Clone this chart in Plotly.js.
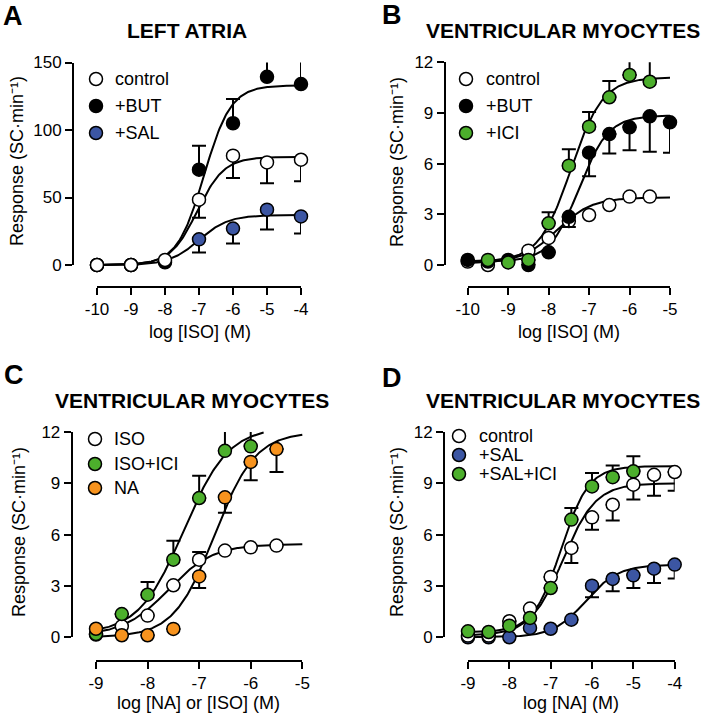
<!DOCTYPE html>
<html><head><meta charset="utf-8">
<script src="https://cdn.plot.ly/plotly-3.0.1.min.js"></script>
<style>html,body{margin:0;padding:0;background:#fff}#chart{width:709px;height:716px}</style>
</head><body><div id="chart"></div>
<script>
// ---------------- DATA ----------------
// Panel A: LEFT ATRIA, log [ISO] (M)
const A_x = [-10, -9, -8, -7, -6, -5, -4];
const A_control = [0, 0, 3.7, 48.4, 81, 76, 78];
const A_control_sem = [0, 0, 0, 13.4, 16.6, 15.5, 16];   // drawn downward
const A_but = [0, 0, 2, 70.6, 105, 139.4, 134];
const A_but_sem = [0, 0, 0, 17.7, 18, 24.6, 19.7];       // drawn upward
const A_sal = [0, 0, -0.5, 19, 27, 41, 36];
const A_sal_sem = [0, 0, 0, 9.7, 11, 14.7, 12.6];        // drawn downward
// fitted curves: [bottom, top, logEC50, Hill slope]
const A_fit_control = [0, 80, -7.05, 1.1];
const A_fit_but = [0, 133, -6.85, 1.1];
const A_fit_sal = [0, 37, -7.0, 1.0];

// Panel B: VENTRICULAR MYOCYTES, log [ISO] (M)
const B_control_x = [-10, -9.5, -9, -8.5, -8, -7.5, -7, -6.5, -6, -5.5];
const B_control = [0.2, 0.0, 0.25, 0.85, 1.6, 2.6, 2.96, 3.55, 4.05, 4.05];
const B_but_x = [-10, -9.5, -9, -8.5, -8, -7.5, -7, -6.5, -6, -5.5, -5];
const B_but = [0.3, 0.2, 0.3, 0.0, 0.75, 2.85, 6.65, 7.75, 8.15, 8.8, 8.45];
const B_but_sem = [0, 0, 0, 0, 0, 0.6, 1.4, 1.15, 1.35, 2.1, 1.8];   // downward
const B_ici_x = [-9.5, -9, -8.5, -8, -7.5, -7, -6.5, -6, -5.5];
const B_ici = [0.3, 0.15, 0.3, 2.47, 5.88, 8.19, 9.93, 11.25, 10.85];
const B_ici_sem = [0, 0, 0, 0.65, 0.97, 0.87, 0.97, 1.38, 1.29];      // upward
const B_fit_control = [0.1, 4.0, -7.8, 1.0];
const B_fit_but = [0.2, 8.85, -7.25, 1.2];
const B_fit_ici = [0.2, 11.1, -7.45, 1.1];

// Panel C: VENTRICULAR MYOCYTES, log [NA] or [ISO] (M)
const C_iso_x = [-9, -8.5, -8, -7.5, -7, -6.5, -6, -5.5];
const C_iso = [0.16, 0.64, 1.27, 3.04, 4.54, 5.07, 5.26, 5.36];
const C_iso_sem = [0, 0, 0, 0, 0.45, 0, 0, 0];                       // upward
const C_ici_x = [-9, -8.5, -8, -7.5, -7, -6.5, -6];
const C_ici = [0.2, 1.36, 2.49, 4.54, 8.14, 10.9, 11.16];
const C_ici_sem = [0, 0, 0.74, 1.1, 1.3, 1.55, 1.5];                 // upward
const C_na_x = [-9, -8.5, -8, -7.5, -7, -6.5, -6, -5.5];
const C_na = [0.5, 0.12, 0.12, 0.49, 3.56, 8.18, 10.25, 11.0];
const C_na_sem = [0, 0, 0, 0, 0.68, 0.9, 1.07, 1.34];                // downward
const C_fit_iso = [0.1, 5.45, -7.6, 1.0];
const C_fit_ici = [0.2, 12.3, -7.3, 1.0];
const C_fit_na = [0, 12.0, -6.7, 1.1];

// Panel D: VENTRICULAR MYOCYTES, log [NA] (M)
const D_x = [-9, -8.5, -8, -7.5, -7, -6.5, -6, -5.5, -5, -4.5, -4];
const D_control = [0.1, 0.1, 0.94, 1.68, 3.53, 5.22, 7.01, 7.75, 8.92, 9.5, 9.66];
const D_control_sem = [0, 0, 0, 0, 0, 0.88, 0.72, 0.93, 0.87, 1.22, 1.09]; // downward
const D_sal = [0, 0, 0, 0.55, 0.5, 1.03, 3.02, 3.41, 3.62, 4.01, 4.25];
const D_sal_sem = [0, 0, 0, 0, 0, 0, 0.68, 0.72, 0.74, 0.83, 0.82];         // downward
const D_salici_x = [-9, -8.5, -8, -7.5, -7, -6.5, -6, -5.5, -5];
const D_salici = [0.35, 0.31, 0.68, 1.13, 2.88, 6.88, 8.82, 9.36, 9.7];
const D_salici_sem = [0, 0, 0, 0, 0, 0.68, 0.78, 0.68, 0.88];              // upward
const D_fit_control = [0.1, 9.0, -6.7, 1.1];
const D_fit_salici = [0.3, 10.0, -6.75, 1.3];
const D_fit_sal = [0, 4.25, -6.15, 1.1];

// tick labels
const A_xticks = [-10, -9, -8, -7, -6, -5, -4];
const A_yticks = [0, 50, 100, 150];
const B_xticks = [-10, -9, -8, -7, -6, -5];
const C_xticks = [-9, -8, -7, -6, -5];
const D_xticks = [-9, -8, -7, -6, -5, -4];
const VM_yticks = [0, 3, 6, 9, 12];

const titles = ['LEFT ATRIA', 'VENTRICULAR MYOCYTES', 'VENTRICULAR MYOCYTES', 'VENTRICULAR MYOCYTES'];
const letters = ['A', 'B', 'C', 'D'];
const xTitles = ['log [ISO] (M)', 'log [ISO] (M)', 'log [NA] or [ISO] (M)', 'log [NA] (M)'];
const yTitle = 'Response (SC·min⁻¹)';

// ---------------- STYLE / GEOMETRY ----------------
const W = 709, H = 716;
const FONT = 'Liberation Sans, Arial, Helvetica, sans-serif';
const WHITE = '#ffffff', BLACK = '#000000', BLUE = '#3c56a3', GREEN = '#4caf2c', ORANGE = '#f7931e';

const panels = [
  {xr: [-10, -4], xpx: [97, 301], yr: [0, 150], ypx: [265, 62.5], xline: 287, yline: 73,
   xticks: A_xticks, yticks: A_yticks, title: [187, 30], letter: [13, 16], ytitle: [17, 161], xtitle: [200, 332],
   leg: {sx: 96, tx: 113, ys: [79, 106, 133]}},
  {xr: [-10, -5], xpx: [467.7, 670], yr: [0, 12], ypx: [265, 62.3], xline: 287, yline: 444.7,
   xticks: B_xticks, yticks: VM_yticks, title: [563, 30], letter: [392, 15], ytitle: [397, 162], xtitle: [569, 332],
   leg: {sx: 466, tx: 484, ys: [79, 106, 133]}},
  {xr: [-9, -5], xpx: [96, 302.3], yr: [0, 12], ypx: [637.3, 432], xline: 661, yline: 71.7,
   xticks: C_xticks, yticks: VM_yticks, title: [192, 400], letter: [14, 375], ytitle: [19, 532], xtitle: [198, 703],
   leg: {sx: 95, tx: 112, ys: [439, 464, 488]}},
  {xr: [-9, -4], xpx: [468, 674.7], yr: [0, 12], ypx: [637.3, 432], xline: 661, yline: 444,
   xticks: D_xticks, yticks: VM_yticks, title: [563, 400], letter: [392, 378], ytitle: [397, 532], xtitle: [571, 703],
   leg: {sx: 459, tx: 477, ys: [436, 455, 474]}}
];

function hill(p, x) { return p[0] + (p[1] - p[0]) / (1 + Math.pow(10, (p[2] - x) * p[3])); }
// curves live on slightly extended, undrawn axes so they are never clipped
function fitCurve(p, x0, x1, axN) {
  const xs = [], ys = [], n = 200;
  for (let i = 0; i <= n; i++) { const x = x0 + (x1 - x0) * i / n; xs.push(x); ys.push(hill(p, x)); }
  return {type: 'scatter', mode: 'lines', x: xs, y: ys, xaxis: 'x' + axN, yaxis: 'y' + axN,
          line: {color: BLACK, width: 2}, hoverinfo: 'skip', showlegend: false};
}
// points live on the visible (detached) axes
function pts(x, y, color, sem, dir, axN) {
  const zeros = y.map(() => 0);
  const t = {type: 'scatter', mode: 'markers', x: x, y: y, xaxis: 'x' + axN, yaxis: 'y' + axN, showlegend: false,
    marker: {size: 13, color: color, line: {color: BLACK, width: 1.5}}, cliponaxis: false};
  if (sem) {
    t.error_y = {type: 'data', symmetric: false,
      array: dir === 'up' ? sem : zeros, arrayminus: dir === 'down' ? sem : zeros,
      color: BLACK, thickness: 2, width: 7};
  }
  return t;
}

const layout = {width: W, height: H, margin: {l: 0, r: 0, t: 0, b: 0}, paper_bgcolor: WHITE, plot_bgcolor: 'rgba(0,0,0,0)',
  showlegend: false, font: {family: FONT, color: BLACK}, annotations: [], shapes: []};
const axName = (c, n) => c + 'axis' + (n === 1 ? '' : n);
const axId = (c, n) => c + (n === 1 ? '' : n);
const PAD = 25;
const bare = {showline: false, showticklabels: false, ticks: '', showgrid: false, zeroline: false, fixedrange: true};
panels.forEach((p, i) => {
  const m = i + 1, n = i + 5;
  const ppx = (p.xpx[1] - p.xpx[0]) / (p.xr[1] - p.xr[0]);
  const ppy = (p.ypx[0] - p.ypx[1]) / (p.yr[1] - p.yr[0]);
  const tf = {size: 17, family: FONT, color: BLACK};
  layout[axName('x', n)] = {domain: [p.xpx[0] / W, p.xpx[1] / W], range: p.xr, anchor: 'free', position: 1 - p.xline / H,
    showline: true, linewidth: 2, linecolor: BLACK, ticks: 'outside', ticklen: 7, tickwidth: 2, tickcolor: BLACK,
    tickvals: p.xticks, ticktext: p.xticks.map(String), tickfont: tf,
    showgrid: false, zeroline: false, fixedrange: true};
  layout[axName('y', n)] = {domain: [1 - p.ypx[0] / H, 1 - p.ypx[1] / H], range: p.yr, anchor: 'free', position: p.yline / W,
    showline: true, linewidth: 2, linecolor: BLACK, ticks: 'outside', ticklen: 7, tickwidth: 2, tickcolor: BLACK,
    tickvals: p.yticks, ticktext: p.yticks.map(String), tickfont: tf,
    showgrid: false, zeroline: false, fixedrange: true};
  layout[axName('x', m)] = Object.assign({domain: [(p.xpx[0] - PAD) / W, (p.xpx[1] + PAD) / W],
    range: [p.xr[0] - PAD / ppx, p.xr[1] + PAD / ppx], anchor: axId('y', m)}, bare);
  layout[axName('y', m)] = Object.assign({domain: [1 - (p.ypx[0] + PAD) / H, 1 - (p.ypx[1] - PAD) / H],
    range: [p.yr[0] - PAD / ppy, p.yr[1] + PAD / ppy], anchor: axId('x', m)}, bare);
  const ann = (txt, x, y, size, opts, weight) => layout.annotations.push(Object.assign({text: txt, xref: 'paper', yref: 'paper',
    x: x / W, y: 1 - y / H, showarrow: false, font: {size: size, family: FONT, color: BLACK, weight: weight || 'normal'}}, opts || {}));
  ann(titles[i], p.title[0], p.title[1], 21, {xanchor: 'center', yanchor: 'middle'}, 'bold');
  ann(letters[i], p.letter[0], p.letter[1], 27, {xanchor: 'center', yanchor: 'middle'}, 'bold');
  ann(xTitles[i], p.xtitle[0], p.xtitle[1], 18, {xanchor: 'center', yanchor: 'middle'});
  ann(yTitle, p.ytitle[0], p.ytitle[1], 18, {xanchor: 'center', yanchor: 'middle', textangle: -90});
});

// legends (symbol + label)
const legends = [
  [['control', WHITE], ['+BUT', BLACK], ['+SAL', BLUE]],
  [['control', WHITE], ['+BUT', BLACK], ['+ICI', GREEN]],
  [['ISO', WHITE], ['ISO+ICI', GREEN], ['NA', ORANGE]],
  [['control', WHITE], ['+SAL', BLUE], ['+SAL+ICI', GREEN]]
];
legends.forEach((items, i) => {
  const L = panels[i].leg;
  items.forEach((it, k) => {
    layout.shapes.push({type: 'circle', xref: 'paper', yref: 'paper', xsizemode: 'pixel', ysizemode: 'pixel',
      xanchor: L.sx / W, yanchor: 1 - L.ys[k] / H, x0: -6.5, x1: 6.5, y0: -6.5, y1: 6.5,
      fillcolor: it[1], line: {color: BLACK, width: 1.5}});
    layout.annotations.push({text: it[0], xref: 'paper', yref: 'paper', x: L.tx / W, y: 1 - L.ys[k] / H,
      xanchor: 'left', yanchor: 'middle', showarrow: false, font: {size: 18, family: FONT, color: BLACK}});
  });
});

const data = [
  // curves (undrawn axes 1-4)
  fitCurve(A_fit_control, -10, -4, ''), fitCurve(A_fit_but, -10, -4, ''), fitCurve(A_fit_sal, -10, -4, ''),
  fitCurve(B_fit_control, -10, -5, 2), fitCurve(B_fit_but, -10, -5, 2), fitCurve(B_fit_ici, -10, -5, 2),
  fitCurve(C_fit_iso, -9, -5, 3), fitCurve(C_fit_ici, -9, -5.75, 3), fitCurve(C_fit_na, -9, -5, 3),
  fitCurve(D_fit_control, -9, -4, 4), fitCurve(D_fit_salici, -9, -4, 4), fitCurve(D_fit_sal, -9, -4, 4),
  // points (visible axes 5-8)
  pts(A_x, A_but, BLACK, A_but_sem, 'up', 5),
  pts(A_x, A_sal, BLUE, A_sal_sem, 'down', 5),
  pts(A_x, A_control, WHITE, A_control_sem, 'down', 5),
  pts(B_control_x, B_control, WHITE, null, null, 6),
  pts(B_but_x, B_but, BLACK, B_but_sem, 'down', 6),
  pts(B_ici_x, B_ici, GREEN, B_ici_sem, 'up', 6),
  pts(C_iso_x, C_iso, WHITE, C_iso_sem, 'up', 7),
  pts(C_ici_x, C_ici, GREEN, C_ici_sem, 'up', 7),
  pts(C_na_x, C_na, ORANGE, C_na_sem, 'down', 7),
  pts(D_x, D_sal, BLUE, D_sal_sem, 'down', 8),
  pts(D_x, D_control, WHITE, D_control_sem, 'down', 8),
  pts(D_salici_x, D_salici, GREEN, D_salici_sem, 'up', 8)
];

Plotly.newPlot('chart', data, layout, {staticPlot: true, displayModeBar: false});
</script>
</body></html>
